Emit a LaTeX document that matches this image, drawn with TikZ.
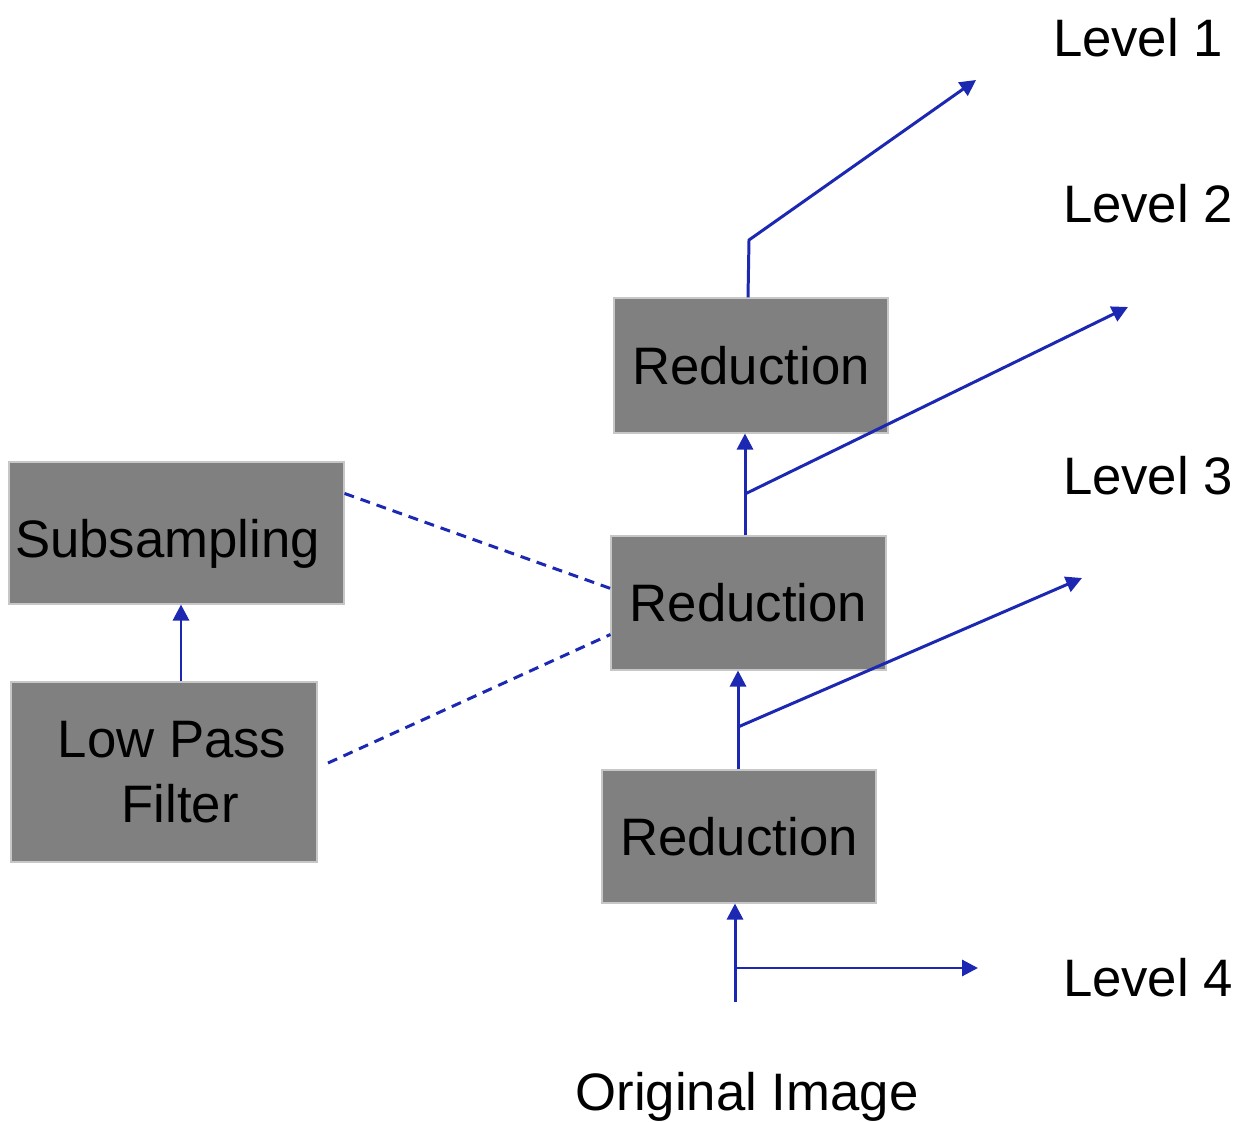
\documentclass[tikz,border=0pt]{standalone}
\usepackage{fontspec}
\setmainfont{Liberation Sans}
\usepackage{tikz}
\usetikzlibrary{positioning,arrows.meta,calc}
\definecolor{flowblue}{RGB}{28,40,178}
\definecolor{boxgray}{RGB}{128,128,128}

\begin{document}
\begin{tikzpicture}[
  procBox/.style={draw=black!22, line width=0.6pt, fill=boxgray,
                  inner sep=0pt, font=\fontsize{30}{37}\selectfont, align=center},
  levelLabel/.style={font=\fontsize{30}{37}\selectfont},
  flow/.style={draw=flowblue, line width=1.7pt},
  flowArrow/.style={flow, -{Triangle[length=0.32cm,width=0.32cm]}},
  linkDash/.style={draw=flowblue, line width=1.7pt, dash pattern=on 0.2cm off 0.14cm}
]
  \useasboundingbox (0,0) rectangle (24.76,-22.44);

  % Reduction chain
  \node[procBox, minimum width=5.48cm, minimum height=2.66cm] (red3) at (14.78,-16.73) {Reduction};
  \node[procBox, minimum width=5.50cm, minimum height=2.68cm] (red2) at (14.97,-12.06) {Reduction};
  \node[procBox, minimum width=5.48cm, minimum height=2.70cm] (red1) at (15.02,-7.31) {Reduction};

  % Inside a reduction step
  \node[procBox, minimum width=6.70cm, minimum height=2.84cm] (sub) at (3.53,-10.66)
    {\raisebox{-0.5cm}[0pt][0pt]{Subsampling}\hspace*{0.36cm}};
  \node[procBox, minimum width=6.12cm, minimum height=3.60cm] (lpf) at (3.28,-15.44)
    {\hspace*{0.32cm}Low Pass\\\hspace*{0.64cm}Filter};

  % Level labels
  \node[levelLabel] (lev1) at (22.76,-0.76) {Level 1};
  \node[levelLabel] (lev2) at (22.96,-4.08) {Level 2};
  \node[levelLabel] (lev3) at (22.96,-9.52) {Level 3};
  \node[levelLabel] (lev4) at (22.96,-19.56) {Level 4};
  \node[levelLabel] (orig) at (14.94,-21.94) {Original Image};

  % Branch points and free ends
  \coordinate (in0) at (14.70,-20.04);
  \coordinate (br4) at (14.70,-19.36);
  \coordinate (out4) at (19.56,-19.36);
  \coordinate (br3) at (14.76,-14.54);
  \coordinate (out3) at (21.64,-11.56);
  \coordinate (br2) at (14.90,-9.88);
  \coordinate (out2) at (22.56,-6.14);
  \coordinate (top1) at (14.98,-4.80);
  \coordinate (out1) at (19.52,-1.60);
  \coordinate (lpfx) at (3.62,0);
  \coordinate (lpfDash) at (6.56,-15.26);

  % Arrows
  \draw[flowArrow] (in0) -- (in0 |- red3.south);
  \draw[flowArrow] (br4) -- (out4);
  \draw[flowArrow] (br3 |- red3.north) -- (br3 |- red2.south);
  \draw[flowArrow] (br3) -- (out3);
  \draw[flowArrow] (br2 |- red2.north) -- (br2 |- red1.south);
  \draw[flowArrow] (br2) -- (out2);
  \draw[flowArrow] ([xshift=-0.06cm]red1.north) -- (top1) -- (out1);
  \draw[flowArrow] (lpfx |- lpf.north) -- (lpfx |- sub.south);

  % Dashed zoom lines
  \draw[linkDash] ([yshift=-0.64cm]sub.north east) -- ([yshift=-1.06cm]red2.north west);
  \draw[linkDash] (lpfDash) -- ([yshift=-1.98cm]red2.north west);
\end{tikzpicture}
\end{document}
